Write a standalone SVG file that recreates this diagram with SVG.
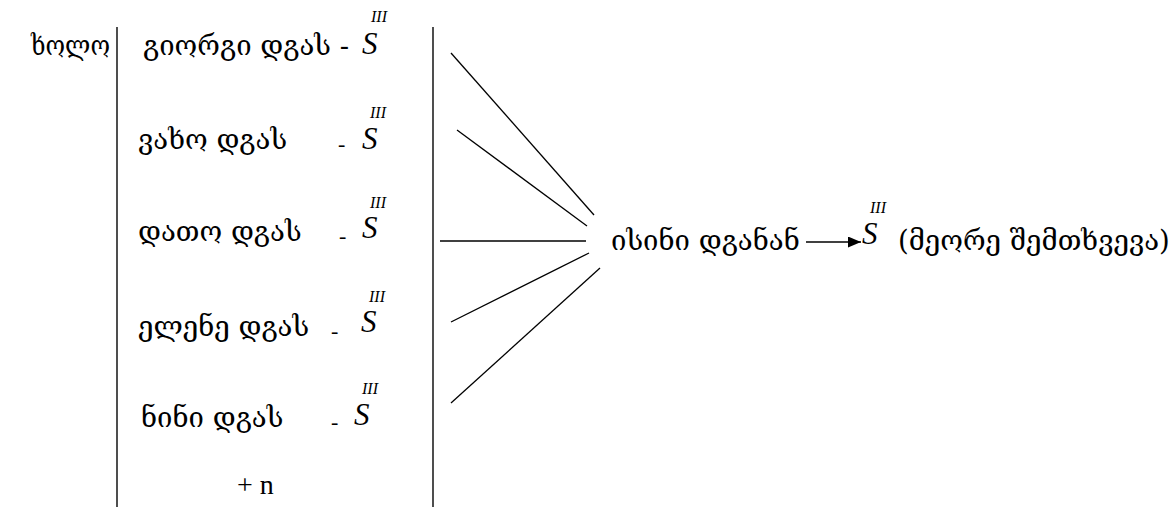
<svg xmlns="http://www.w3.org/2000/svg" width="1176" height="507" viewBox="0 0 1176 507">
<style>
.ka{font-family:"DejaVu Serif","DejaVu Sans",serif;font-size:27.5px;fill:#000}
.lat{font-family:"Liberation Serif",serif;font-size:28px;fill:#000}
.dash{font-family:"Liberation Serif",serif;font-size:22px;fill:#000}
.s{font-family:"Liberation Serif",serif;font-style:italic;font-size:31px;fill:#000}
.r{font-family:"Liberation Serif",serif;font-style:italic;font-size:16px;fill:#000}
.ln{stroke:#000;stroke-width:1.3;fill:none}
.bar{stroke:#222;stroke-width:1.6;fill:none}
</style>
<defs>
<marker id="ah" markerWidth="13" markerHeight="11" refX="13" refY="5.5" orient="auto" markerUnits="userSpaceOnUse">
<path d="M0,0 L13,5.5 L0,11 Z" fill="#000"/>
</marker>
</defs>
<rect width="1176" height="507" fill="#fff"/>
<g id="kholo"><text class="ka" x="31" y="55" textLength="79" lengthAdjust="spacingAndGlyphs">ხოლო</text></g>
<g id="bracket">
<line class="bar" x1="117" y1="27" x2="117" y2="507"/>
<line class="bar" x1="433" y1="27" x2="433" y2="507"/>
</g>
<g id="row1">
<text class="ka" x="143" y="55">გიორგი დგას -</text>
<text class="s" x="362" y="54">S</text><text class="r" x="371" y="22">III</text>
</g>
<g id="row2">
<text class="ka" x="138" y="149">ვახო დგას</text>
<text class="dash" x="338" y="151">-</text>
<text class="s" x="362" y="149">S</text><text class="r" x="370" y="118">III</text>
</g>
<g id="row3">
<text class="ka" x="138" y="241">დათო დგას</text>
<text class="dash" x="339" y="243">-</text>
<text class="s" x="362" y="238">S</text><text class="r" x="370" y="208">III</text>
</g>
<g id="row4">
<text class="ka" x="138" y="336">ელენე დგას</text>
<text class="dash" x="331" y="338">-</text>
<text class="s" x="361" y="332">S</text><text class="r" x="369" y="302">III</text>
</g>
<g id="row5">
<text class="ka" x="141" y="427">ნინი დგას</text>
<text class="dash" x="331" y="429">-</text>
<text class="s" x="354" y="425">S</text><text class="r" x="362" y="394">III</text>
</g>
<g id="plusn"><text class="lat" x="237" y="494">+ n</text></g>
<g id="connectors">
<line class="ln" x1="451" y1="53" x2="594" y2="215"/>
<line class="ln" x1="457" y1="130" x2="587" y2="226"/>
<line class="ln" x1="440" y1="241" x2="586" y2="241"/>
<line class="ln" x1="589" y1="253" x2="451" y2="322"/>
<line class="ln" x1="600" y1="268" x2="451" y2="403"/>
<line class="ln" x1="806" y1="242" x2="861" y2="242" marker-end="url(#ah)"/>
</g>
<g id="result">
<text class="ka" x="611" y="250">ისინი დგანან</text>
<text class="s" x="862" y="244">S</text><text class="r" x="870" y="213">III</text>
<text class="ka" x="898" y="250">(მეორე შემთხვევა)</text>
</g>
</svg>
